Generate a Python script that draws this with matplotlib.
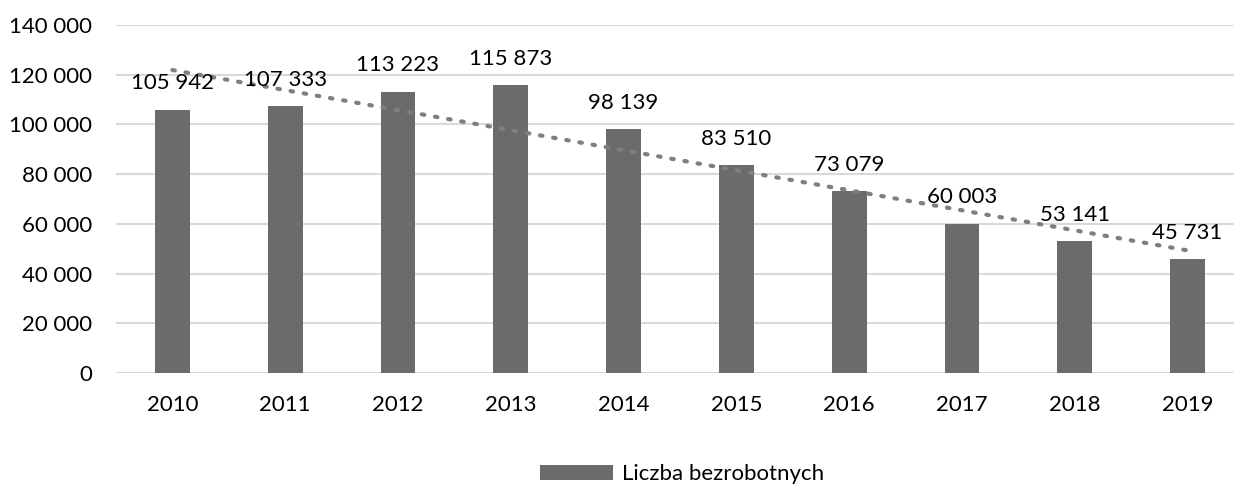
import numpy as np
import matplotlib.pyplot as plt
from matplotlib.ticker import FuncFormatter

plt.rcParams['font.family'] = ['Lato', 'DejaVu Sans']

# data
years = ['2010', '2011', '2012', '2013', '2014', '2015', '2016', '2017', '2018', '2019']
unemployed = [105942, 107333, 113223, 115873, 98139, 83510, 73079, 60003, 53141, 45731]
series_name = 'Liczba bezrobotnych'


def fmt(v):
    return '{:,}'.format(int(v)).replace(',', ' ')


fig = plt.figure(figsize=(12.34, 4.84), dpi=100)
ax = fig.add_axes([116 / 1234, 111 / 484, 1128 / 1234, 348 / 484])

x = np.arange(len(years))
bars = ax.bar(x, unemployed, width=0.31, color='#6b6b6b', label=series_name, zorder=3)

# linear trend line
k, b = np.polyfit(x, unemployed, 1)
ax.plot([x[0], x[-1]], [k * x[0] + b, k * x[-1] + b], color='#7f7f7f',
        linestyle=(0, (0.6, 2.6)), linewidth=3, dash_capstyle='round', zorder=4)

for xi, v in zip(x, unemployed):
    ax.annotate(fmt(v), (xi, v), xytext=(0, 19), textcoords='offset points',
                ha='center', va='center', fontsize=16, color='#000000', zorder=5)

ax.set_xlim(-0.5, len(years) - 0.5)
ax.set_ylim(0, 140000)
ax.set_yticks(np.arange(0, 140001, 20000))
ax.yaxis.set_major_formatter(FuncFormatter(lambda v, p: fmt(v)))
ax.set_xticks(x)
ax.set_xticklabels(years)

ax.grid(axis='y', color='#d9d9d9', linewidth=1.5, zorder=0)
for s in ax.spines.values():
    s.set_visible(False)
ax.tick_params(axis='both', length=0, labelsize=16, colors='#000000')
ax.tick_params(axis='y', pad=17)
ax.tick_params(axis='x', pad=16)

fig.legend(handles=[bars], labels=[series_name], loc='center',
           bbox_to_anchor=(682 / 1234, 10 / 484), frameon=False, fontsize=16,
           handlelength=3.3, handleheight=0.65, handletextpad=0.4)

fig.savefig('out.png', dpi=100)
